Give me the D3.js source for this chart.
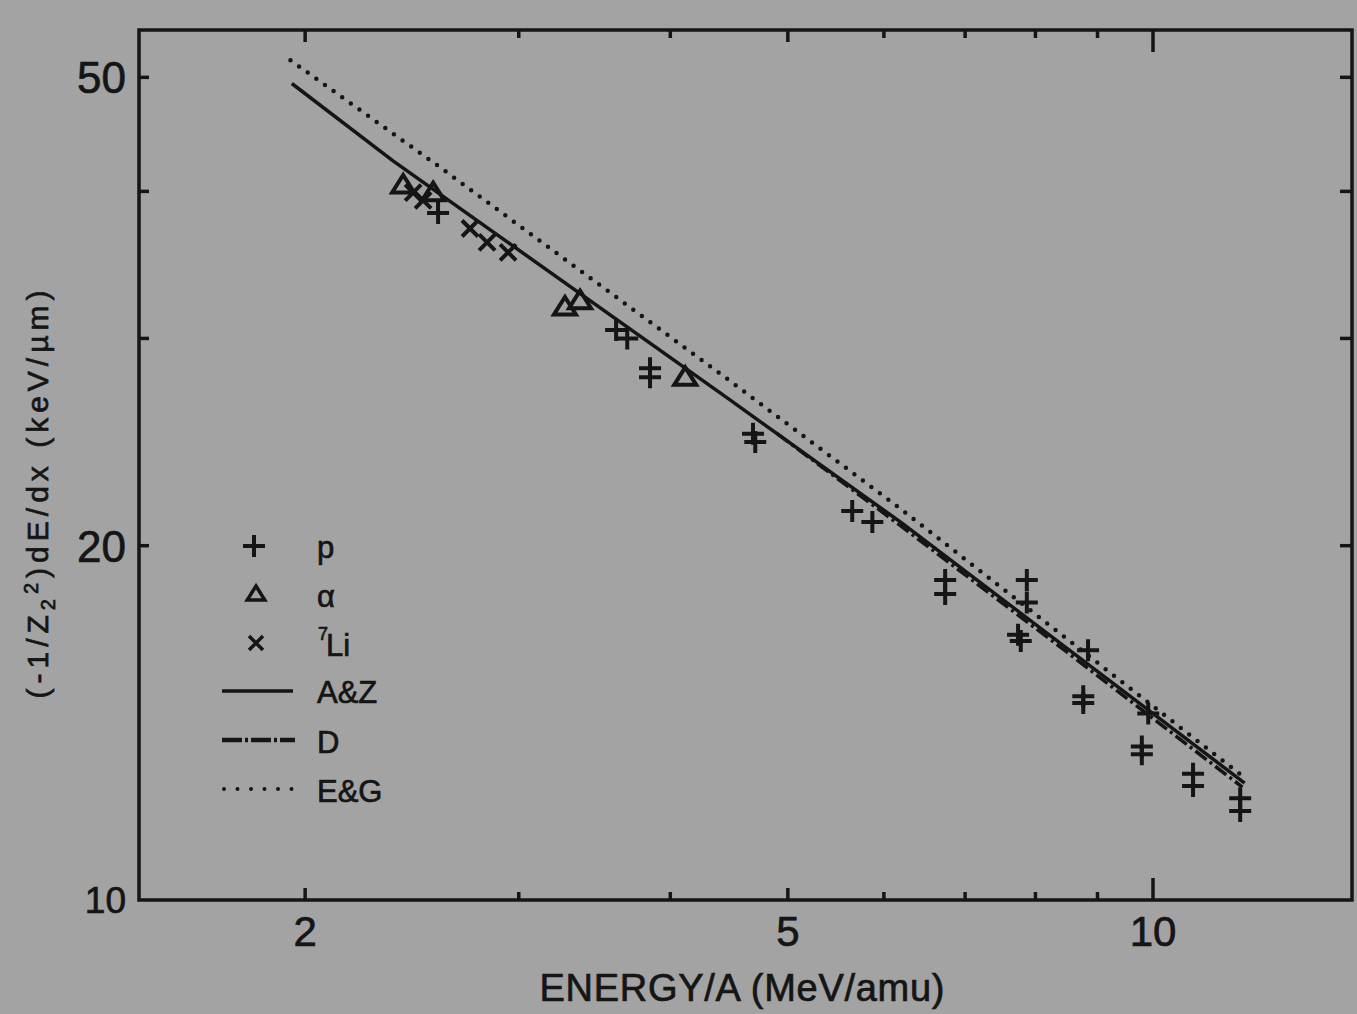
<!DOCTYPE html>
<html>
<head>
<meta charset="utf-8">
<script src="https://cdn.jsdelivr.net/npm/d3@7"></script>
<style>
  body { margin: 0; background: #a3a3a3; }
  svg { display: block; }
  text { font-family: "Liberation Sans", Arial, sans-serif; fill: #151515; stroke: #151515; stroke-width: 0.7px; }
</style>
</head>
<body>
<script>
// stopping power vs energy (E in MeV/amu, S in keV/um)
const protonE = [2.574, 3.609, 3.686, 3.849, 3.849, 4.68, 4.70, 5.65, 5.87, 6.74, 6.74, 7.74, 7.78, 7.87, 7.87, 8.84, 8.76, 8.76, 9.91, 9.79, 9.79, 10.79, 10.79, 11.8, 11.8]
const protonS = [38.35, 30.5, 30.0, 28.3, 27.8, 24.9, 24.5, 21.4, 20.95, 18.7, 18.2, 16.8, 16.6, 18.7, 17.9, 16.3, 14.9, 14.7, 14.4, 13.5, 13.3, 12.8, 12.5, 12.2, 11.9]

const alphaE = [2.409, 2.55, 3.275, 3.37, 4.115]
const alphaS = [40.5, 39.9, 31.9, 32.3, 27.8]

const liE = [2.455, 2.502, 2.735, 2.825, 2.94]
const liS = [39.9, 39.3, 37.2, 36.2, 35.5]

// curves
const azE = [1.95, 2.36, 4.48, 6.21, 11.9]
const azS = [49.4, 42.5, 26.6, 20.9, 12.57]
const dE = [4.9, 6.21, 8.5, 11.85]
const dS = [24.9, 20.75, 16.23, 12.47]
const egE = [1.945, 2.57, 4.46, 6.21, 11.9]
const egS = [51.7, 42.1, 27.7, 21.45, 12.7]

const xLabels = [2, 5, 10]
const xMinor = [2, 3, 4, 5, 6, 7, 8, 9, 10]
const yLabels = [10, 20, 50]
const yMinor = [20, 30, 40, 50]

const width = 1357,
    height = 1014
const mLeft = 139, mRight = 1352, mTop = 30, mBottom = 900
const ink = "#151515"

const svg = d3.select("body").append("svg")
    .attr("width", width)
    .attr("height", height)

const x = d3.scaleLog().domain([1.459, 14.59]).range([mLeft, mRight])
const y = d3.scaleLog().domain([10, 54.85]).range([mBottom, mTop])

// frame
svg.append("rect")
    .attr("x", mLeft).attr("y", mTop)
    .attr("width", mRight - mLeft).attr("height", mBottom - mTop)
    .attr("fill", "none").attr("stroke", ink).attr("stroke-width", 3.5)

const tickLen = (v) => v == 10 ? 22 : (v == 2 || v == 5 ? 12 : 8)

// ticks bottom + top
svg.selectAll(".xtick-b").data(xMinor).join("line")
    .attr("x1", d => x(d)).attr("x2", d => x(d))
    .attr("y1", mBottom).attr("y2", d => mBottom - tickLen(d))
    .attr("stroke", ink).attr("stroke-width", 3.5)
svg.selectAll(".xtick-t").data(xMinor).join("line")
    .attr("x1", d => x(d)).attr("x2", d => x(d))
    .attr("y1", mTop).attr("y2", d => mTop + tickLen(d))
    .attr("stroke", ink).attr("stroke-width", 3.5)

// ticks left + right
svg.selectAll(".ytick-l").data(yMinor).join("line")
    .attr("x1", mLeft).attr("x2", mLeft + 10)
    .attr("y1", d => y(d)).attr("y2", d => y(d))
    .attr("stroke", ink).attr("stroke-width", 3.5)
svg.selectAll(".ytick-r").data(yMinor).join("line")
    .attr("x1", mRight).attr("x2", mRight - 12)
    .attr("y1", d => y(d)).attr("y2", d => y(d))
    .attr("stroke", ink).attr("stroke-width", 3.5)

svg.selectAll(".xlab").data(xLabels).join("text")
    .attr("x", d => x(d)).attr("y", 946)
    .attr("text-anchor", "middle")
    .style("font-size", "42px")
    .text(d => d)

svg.selectAll(".ylab").data(yLabels).join("text")
    .attr("x", 126).attr("y", d => y(d))
    .attr("dy", "0.36em")
    .attr("text-anchor", "end")
    .style("font-size", d => d == 10 ? "37px" : "44px")
    .text(d => d)

// axis titles
svg.append("text")
    .attr("x", 742).attr("y", 1001)
    .attr("text-anchor", "middle")
    .attr("textLength", 405).attr("lengthAdjust", "spacing")
    .style("font-size", "38px")
    .text("ENERGY/A (MeV/amu)")

const yt = svg.append("text")
    .attr("transform", "translate(48,492) rotate(-90)")
    .attr("text-anchor", "middle")
    .style("font-size", "30px")
    .style("letter-spacing", "5px")
yt.append("tspan").text("(-1/Z")
yt.append("tspan").attr("dy", 7).style("font-size", "20px").text("2")
yt.append("tspan").attr("dy", -17).style("font-size", "20px").text("2")
yt.append("tspan").attr("dy", 10).text(")dE/dx (keV/\u00b5m)")

// curves
const line = d3.line().x(d => x(d[0])).y(d => y(d[1]))

svg.append("path").datum(d3.zip(azE, azS))
    .attr("d", line).attr("fill", "none")
    .attr("stroke", ink).attr("stroke-width", 3.5)
svg.append("path").datum(d3.zip(dE, dS))
    .attr("d", line).attr("fill", "none")
    .attr("stroke", ink).attr("stroke-width", 3.5)
    .attr("stroke-dasharray", "14 4 3 4")
svg.append("path").datum(d3.zip(egE, egS))
    .attr("d", line).attr("fill", "none")
    .attr("stroke", ink).attr("stroke-width", 4.5)
    .attr("stroke-linecap", "round")
    .attr("stroke-dasharray", "0 10.6")

// markers
const plusPath = (s) => `M${-s},0H${s}M0,${-s}V${s}`
const crossPath = (s) => `M${-s},${-s}L${s},${s}M${-s},${s}L${s},${-s}`
const triPath = (s) => `M0,${-s}L${s * 1.1},${s * 0.75}L${-s * 1.1},${s * 0.75}Z`

svg.selectAll(".p").data(d3.zip(protonE, protonS)).join("path")
    .attr("transform", d => `translate(${x(d[0])},${y(d[1])})`)
    .attr("d", plusPath(11))
    .attr("fill", "none").attr("stroke", ink).attr("stroke-width", 4)

svg.selectAll(".a").data(d3.zip(alphaE, alphaS)).join("path")
    .attr("transform", d => `translate(${x(d[0])},${y(d[1])})`)
    .attr("d", triPath(10))
    .attr("fill", "none").attr("stroke", ink).attr("stroke-width", 4)

svg.selectAll(".li").data(d3.zip(liE, liS)).join("path")
    .attr("transform", d => `translate(${x(d[0])},${y(d[1])})`)
    .attr("d", crossPath(8))
    .attr("fill", "none").attr("stroke", ink).attr("stroke-width", 4)

// legend
const lg = svg.append("g")
lg.append("path").attr("transform", "translate(254,546)").attr("d", plusPath(11))
    .attr("fill", "none").attr("stroke", ink).attr("stroke-width", 4)
lg.append("path").attr("transform", "translate(256,594)").attr("d", triPath(8))
    .attr("fill", "none").attr("stroke", ink).attr("stroke-width", 3.5)
lg.append("path").attr("transform", "translate(256,643)").attr("d", crossPath(7))
    .attr("fill", "none").attr("stroke", ink).attr("stroke-width", 3.5)
lg.append("line").attr("x1", 222).attr("x2", 293).attr("y1", 691).attr("y2", 691)
    .attr("stroke", ink).attr("stroke-width", 3.5)
lg.append("line").attr("x1", 222).attr("x2", 295).attr("y1", 740).attr("y2", 740)
    .attr("stroke", ink).attr("stroke-width", 4.5).attr("stroke-dasharray", "20 3 3 3")
lg.append("line").attr("x1", 224).attr("x2", 292).attr("y1", 789).attr("y2", 789)
    .attr("stroke", ink).attr("stroke-width", 4)
    .attr("stroke-linecap", "round").attr("stroke-dasharray", "0 13.5")

const legendText = [["p", 317, 558], ["\u03b1", 317, 607], ["A&Z", 317, 703], ["D", 317, 753], ["E&G", 317, 802]]
lg.selectAll(".lt").data(legendText).join("text")
    .attr("x", d => d[1]).attr("y", d => d[2])
    .style("font-size", "31px")
    .text(d => d[0])
lg.append("text").attr("x", 318).attr("y", 640).style("font-size", "18px").text("7")
lg.append("text").attr("x", 326).attr("y", 656).style("font-size", "31px").text("Li")
</script>
</body>
</html>
